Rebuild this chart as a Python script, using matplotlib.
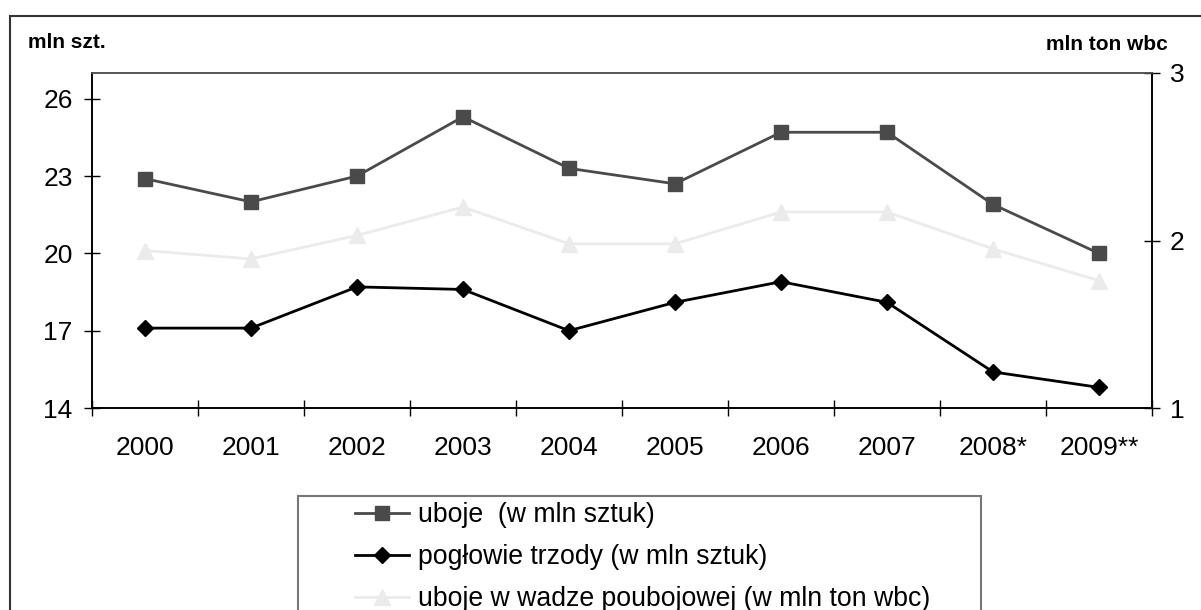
import matplotlib.pyplot as plt
from matplotlib.patches import Rectangle
from matplotlib.ticker import FixedLocator

plt.rcParams['font.family'] = ['Liberation Sans', 'DejaVu Sans']

# dane
lata = ['2000', '2001', '2002', '2003', '2004', '2005', '2006', '2007', '2008*', '2009**']
uboje = [22.9, 22.0, 23.0, 25.3, 23.3, 22.7, 24.7, 24.7, 21.9, 20.0]
poglowie = [17.1, 17.1, 18.7, 18.6, 17.0, 18.1, 18.9, 18.1, 15.4, 14.8]
uboje_wbc = [1.94, 1.89, 2.03, 2.20, 1.98, 1.98, 2.17, 2.17, 1.95, 1.76]

W, H = 1201, 610
fig = plt.figure(figsize=(W / 100, H / 100), dpi=100)

def fx(px):
    return px / W

def fy(py):
    return 1 - py / H

ax = fig.add_axes([fx(92), fy(408), fx(1152 - 92), (408 - 73) / H])
ax2 = ax.twinx()

x = list(range(len(lata)))
l1, = ax.plot(x, uboje, color='#4a4a4a', lw=2, marker='s', ms=10,
              label='uboje  (w mln sztuk)')
l2, = ax.plot(x, poglowie, color='black', lw=2, marker='D', ms=8.5,
              label='pogłowie trzody (w mln sztuk)')
l3, = ax2.plot(x, uboje_wbc, color='#ebebeb', lw=2, marker='^', ms=11,
               label='uboje w wadze poubojowej (w mln ton wbc)')

ax.set_xlim(-0.5, 9.5)
ax.set_ylim(14, 27)
ax2.set_ylim(1, 3)
ax.set_yticks([14, 17, 20, 23, 26])
ax2.set_yticks([1, 2, 3])
ax.set_xticks(x)
ax.set_xticklabels(lata)
ax.xaxis.set_minor_locator(FixedLocator([i - 0.5 for i in range(len(lata) + 1)]))

ax.tick_params(axis='x', which='major', length=0, pad=20, labelsize=19)
ax.tick_params(axis='x', which='minor', direction='inout', length=12, width=1)
ax.tick_params(axis='y', direction='inout', length=12, width=1, pad=8, labelsize=19)
ax2.tick_params(axis='y', direction='inout', length=12, width=1, pad=7, labelsize=19)

for a in (ax, ax2):
    for s in a.spines.values():
        s.set_linewidth(1.2)
        s.set_color('black')
ax.spines['top'].set_color('#555555')
ax2.spines['top'].set_color('#555555')

# opisy osi
fig.text(fx(28), fy(42), 'mln szt.', fontsize=15, fontweight='bold', va='center')
fig.text(fx(1168), fy(45), 'mln ton wbc', fontsize=15, fontweight='bold',
         va='center', ha='right')

# ramka calego wykresu
fig.patches.append(Rectangle((fx(10), fy(640)), fx(1220), (640 - 16) / H,
                             transform=fig.transFigure, fill=False,
                             edgecolor='#333333', lw=1.5))
# ramka legendy
fig.patches.append(Rectangle((fx(298), fy(640)), fx(981 - 298), (640 - 496) / H,
                             transform=fig.transFigure, fill=False,
                             edgecolor='#777777', lw=1.5))

fig.legend(handles=[l1, l2, l3], loc='upper left',
           bbox_to_anchor=(fx(342), fy(489)), frameon=False, fontsize=19.2,
           borderpad=0, handlelength=2.0, handletextpad=0.34, labelspacing=0.6)

fig.savefig('out.png', dpi=100)
